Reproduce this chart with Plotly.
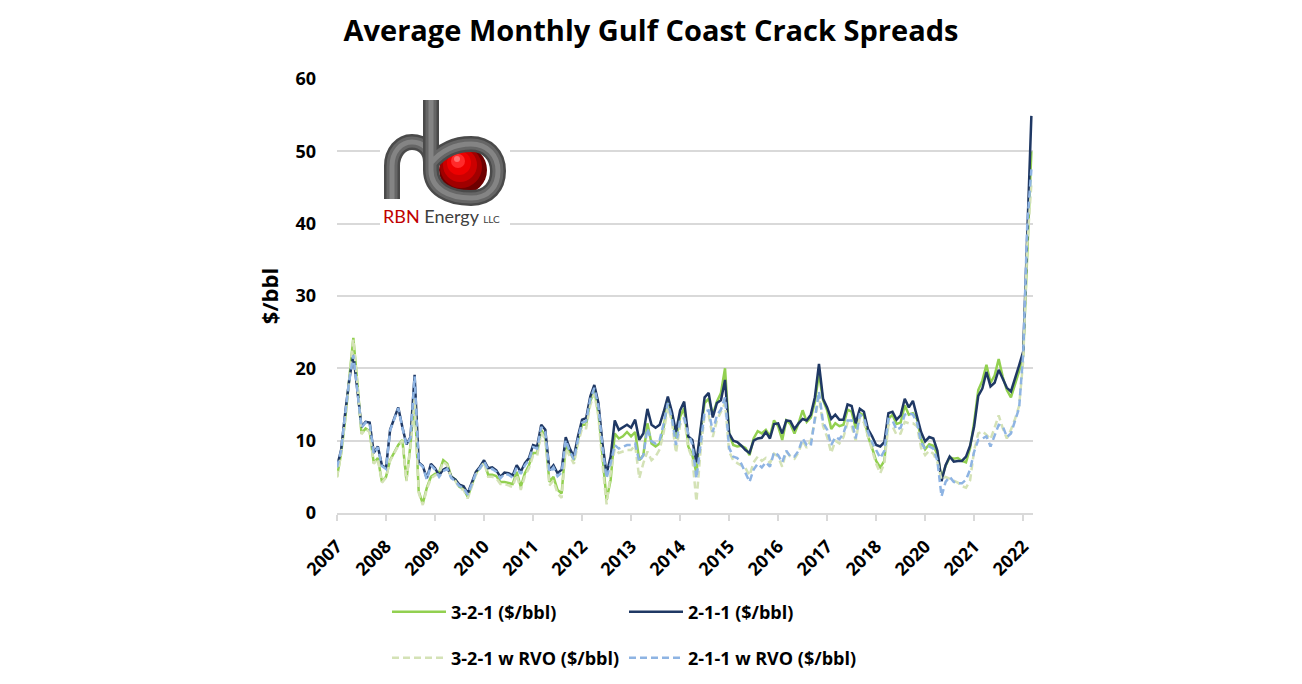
import plotly.graph_objects as go

# ---------------- data (monthly) ----------------
year_labels = ['2007', '2008', '2009', '2010', '2011', '2012', '2013', '2014',
               '2015', '2016', '2017', '2018', '2020', '2021', '2022']
label_every = 12

crack_321 = [
    5.0, 8.2, 12.9, 18.4, 24.2, 17.9, 11.0, 11.7, 11.3, 6.9, 7.6, 4.3,
    5.0, 7.3, 8.3, 9.4, 10.1, 4.5, 9.5, 16.0, 3.0, 1.3, 3.5, 5.0,
    5.4, 5.6, 7.3, 6.8, 5.0, 4.6, 3.6, 3.4, 2.2, 3.9, 5.5, 6.3,
    7.2, 5.3, 5.3, 5.1, 4.3, 4.3, 4.1, 4.0, 5.7, 3.6, 5.5, 6.6,
    8.3, 8.3, 11.5, 10.6, 4.3, 5.0, 3.2, 2.7, 9.4, 8.5, 7.3, 10.1,
    12.2, 12.2, 15.4, 17.0, 13.8, 7.3, 1.8, 4.6, 11.0, 10.3, 10.6, 11.2,
    10.6, 11.2, 7.3, 8.0, 12.4, 9.6, 9.2, 9.6, 11.9, 15.4, 13.1, 10.3,
    13.3, 14.5, 9.2, 8.0, 5.5, 11.2, 15.2, 15.8, 13.6, 15.4, 16.6, 20.0,
    11.0, 9.4, 9.2, 9.3, 9.0, 8.0, 10.3, 11.3, 11.0, 11.5, 10.6, 12.8,
    12.0, 10.1, 12.8, 12.3, 11.0, 12.4, 14.2, 12.6, 13.2, 15.3, 19.3, 15.6,
    14.2, 11.6, 12.4, 12.0, 12.2, 14.3, 14.0, 11.7, 13.8, 13.5, 10.6, 9.0,
    7.2, 6.3, 7.2, 13.0, 13.6, 12.3, 12.5, 14.9, 13.6, 13.8, 13.0, 10.2,
    8.8, 9.5, 9.3, 8.1, 4.8, 6.5, 7.7, 7.5, 7.6, 7.2, 7.0, 9.0,
    12.6, 17.0, 18.3, 20.5, 18.0, 19.0, 21.3, 18.8, 17.0, 16.0, 17.8, 19.6,
    21.8, 36.5, 50.0,
]

crack_211 = [
    6.4, 8.7, 13.8, 18.4, 21.9, 17.0, 11.9, 12.6, 12.5, 8.3, 9.2, 6.6,
    6.2, 11.5, 13.1, 14.6, 11.9, 9.5, 10.5, 19.1, 7.0, 6.5, 4.8, 6.8,
    6.2, 5.2, 6.0, 6.3, 5.0, 4.6, 3.9, 3.7, 2.7, 4.1, 5.7, 6.4,
    7.3, 6.2, 6.3, 5.9, 5.0, 5.6, 5.5, 5.2, 6.6, 5.7, 6.9, 7.6,
    9.4, 9.2, 12.2, 11.5, 5.9, 6.6, 5.5, 6.0, 10.5, 8.9, 7.8, 10.6,
    12.9, 13.1, 16.1, 17.7, 15.2, 9.6, 5.4, 7.8, 12.8, 11.5, 11.8, 12.2,
    11.8, 12.9, 10.1, 11.0, 14.4, 12.2, 11.8, 12.2, 14.0, 16.1, 14.0, 11.2,
    14.2, 15.4, 10.6, 10.1, 7.0, 11.5, 16.0, 16.6, 13.2, 15.2, 15.6, 18.4,
    11.0, 10.0, 9.8, 9.3, 8.7, 8.3, 10.0, 10.3, 10.4, 11.2, 10.3, 12.3,
    12.4, 11.0, 12.8, 12.7, 11.6, 12.4, 13.0, 12.8, 13.6, 16.0, 20.6, 15.8,
    14.6, 13.0, 13.6, 12.9, 12.9, 15.0, 14.8, 12.4, 14.4, 14.0, 11.6, 10.6,
    9.4, 9.2, 9.8, 13.8, 14.0, 12.9, 13.5, 15.8, 14.6, 15.5, 13.4, 11.2,
    9.9, 10.5, 10.3, 8.6, 4.4, 6.6, 7.8, 7.1, 7.2, 7.2, 7.8, 9.3,
    12.0, 16.2, 17.2, 19.5, 17.5, 18.0, 19.8, 18.5, 17.3, 16.8, 18.5, 20.4,
    22.3, 38.5, 54.9,
]

crack_321_rvo = [
    4.9, 8.1, 12.8, 18.3, 24.0, 17.8, 10.9, 11.6, 11.2, 6.8, 7.5, 4.2,
    4.9, 7.2, 8.2, 9.3, 10.0, 4.4, 9.3, 15.8, 2.8, 1.1, 3.3, 4.8,
    5.2, 5.4, 7.1, 6.6, 4.8, 4.4, 3.4, 3.2, 2.0, 3.7, 5.3, 6.1,
    7.0, 5.0, 5.0, 4.8, 4.0, 4.0, 3.8, 3.6, 5.3, 3.2, 5.1, 6.2,
    7.9, 7.9, 11.1, 10.2, 3.8, 4.5, 2.7, 2.1, 8.9, 7.9, 6.8, 9.6,
    11.7, 11.7, 14.9, 16.5, 13.3, 6.7, 1.2, 5.5, 8.9, 8.3, 8.5, 8.7,
    8.7, 9.4, 4.8, 6.9, 8.5, 7.3, 7.8, 8.8, 11.2, 14.7, 12.6, 8.3,
    12.2, 13.1, 9.0, 7.5, 1.6, 8.5, 13.5, 13.5, 10.5, 12.8, 14.0, 15.2,
    8.5, 7.3, 6.9, 6.5, 6.2, 5.2, 7.0, 7.8, 7.2, 7.6, 6.9, 8.2,
    7.8, 6.4, 8.5, 7.8, 7.5, 8.4, 10.0, 9.0, 10.0, 12.8, 16.2, 12.0,
    10.5, 8.3, 10.0, 9.6, 10.5, 12.5, 12.0, 10.0, 13.2, 12.5, 10.5, 8.8,
    6.8, 5.5, 6.8, 12.2, 12.0, 10.8, 11.0, 12.6, 12.4, 12.4, 12.0, 9.0,
    8.0, 8.6, 8.2, 7.0, 4.6, 5.0, 4.7, 4.4, 4.2, 3.7, 3.5, 4.5,
    8.7, 11.0, 11.3, 10.8, 10.2, 11.8, 13.5, 11.7, 10.3, 11.5, 13.0, 14.8,
    21.0, 37.0, 45.5,
]

crack_211_rvo = [
    6.3, 8.6, 13.7, 18.3, 21.8, 16.9, 11.8, 12.5, 12.4, 8.2, 9.1, 6.5,
    6.1, 11.4, 13.0, 14.5, 11.8, 9.4, 10.4, 18.9, 6.9, 6.4, 4.6, 6.6,
    6.0, 5.0, 5.8, 6.1, 4.8, 4.4, 3.7, 3.5, 2.5, 3.9, 5.5, 6.2,
    7.1, 6.0, 6.1, 5.7, 4.8, 5.4, 5.3, 4.9, 6.3, 5.4, 6.6, 7.3,
    9.1, 8.9, 11.9, 11.2, 5.6, 6.3, 5.1, 5.6, 10.1, 8.5, 7.4, 10.2,
    12.5, 12.7, 15.7, 17.3, 14.8, 9.1, 4.8, 6.9, 9.4, 8.9, 9.2, 9.4,
    9.4, 9.6, 7.1, 8.0, 11.7, 9.9, 9.6, 10.1, 12.4, 15.2, 13.1, 9.4,
    12.9, 13.1, 11.0, 9.5, 4.8, 9.5, 14.0, 14.2, 11.2, 13.5, 14.3, 16.0,
    9.0, 7.8, 7.6, 6.8, 5.5, 4.3, 6.0, 6.8, 6.3, 7.0, 6.4, 8.4,
    8.0, 7.0, 8.6, 7.8, 7.8, 8.6, 10.3, 9.4, 9.3, 12.8, 16.8, 12.5,
    11.5, 9.4, 10.5, 10.2, 11.0, 12.8, 12.8, 10.3, 13.6, 13.2, 11.2, 9.8,
    8.6, 7.6, 8.6, 13.0, 12.8, 11.5, 11.8, 13.6, 13.8, 13.6, 12.5, 9.8,
    8.8, 9.2, 8.9, 7.2, 2.3, 4.3, 5.0, 4.3, 4.1, 4.1, 4.6, 6.0,
    8.5, 10.1, 10.3, 10.6, 9.2, 10.8, 12.2, 12.0, 10.5, 11.0, 12.6, 14.5,
    22.0, 40.0, 47.5,
]

series_names = ['3-2-1 ($/bbl)', '2-1-1 ($/bbl)', '3-2-1 w RVO ($/bbl)', '2-1-1 w RVO ($/bbl)']

# ---------------- styling ----------------
FONT = 'Open Sans'
GREEN = '#92D050'
NAVY = '#1F3864'
LT_GREEN = '#D4E2B6'
LT_BLUE = '#8EB4E3'
GRID = '#D9D9D9'

months = list(range(len(crack_211)))
tick_positions = [i * label_every for i in range(len(year_labels))]

fig = go.Figure()
fig.add_trace(go.Scatter(x=months, y=crack_321, mode='lines', name=series_names[0],
                         line=dict(color=GREEN, width=2.5), legend='legend'))
fig.add_trace(go.Scatter(x=months, y=crack_211, mode='lines', name=series_names[1],
                         line=dict(color=NAVY, width=2.5), legend='legend2'))
fig.add_trace(go.Scatter(x=months, y=crack_321_rvo, mode='lines', name=series_names[2],
                         line=dict(color=LT_GREEN, width=2.5, dash='7px,4px'), legend='legend3'))
fig.add_trace(go.Scatter(x=months, y=crack_211_rvo, mode='lines', name=series_names[3],
                         line=dict(color=LT_BLUE, width=2.5, dash='7px,4px'), legend='legend4'))

# ---------------- logo (decoration) ----------------
PL, PB = 337, 513  # plot-area left / bottom in pixels (anchor)
PW, PH = 696, 434


def off(x, y):
    return x - PL, PB - y


def pix_path(points_cmds):
    s = ''
    for cmd, pts in points_cmds:
        s += cmd + ' '.join('%g,%g' % off(px, py) for px, py in pts) + ' '
    return s.strip()


def pshape(**kw):
    base = dict(xref='paper', yref='paper', xsizemode='pixel', ysizemode='pixel',
                xanchor=0, yanchor=0, layer='above')
    base.update(kw)
    return base


def circ(cx, cy, r, fill=None, line_color=None, lw=0):
    x0, y0 = off(cx - r, cy + r)
    x1, y1 = off(cx + r, cy - r)
    d = dict(type='circle', x0=x0, y0=y0, x1=x1, y1=y1)
    if fill:
        d['fillcolor'] = fill
    d['line'] = dict(color=line_color or 'rgba(0,0,0,0)', width=lw)
    return pshape(**d)


shapes = []
bx0, by0 = off(380, 232)
bx1, by1 = off(510, 97)
shapes.append(pshape(type='rect', x0=bx0, y0=by0, x1=bx1, y1=by1,
                     fillcolor='white', line=dict(width=0)))
for (cx, cy, r, col) in [(463, 170, 24, '#6E0000'), (461, 167, 21, '#A00000'),
                         (460, 165, 17, '#CC0000'), (459, 163, 12, '#EE0000'),
                         (458, 161, 7, '#FF2A2A'), (457, 159, 3, '#FF7070')]:
    shapes.append(circ(cx, cy, r, fill=col))

b_path = pix_path([('M', [(431, 100)]), ('L', [(431, 170)]),
                   ('C', [(431, 189), (449, 198), (471, 198)]),
                   ('C', [(489, 198), (498, 186), (498, 171)]),
                   ('C', [(498, 155), (487, 144), (471, 144)]),
                   ('C', [(455, 144), (441, 151), (431, 163)])])
r_path = pix_path([('M', [(392, 199)]), ('L', [(392, 166)]),
                   ('C', [(392, 152), (401, 142), (412, 142)]),
                   ('C', [(423, 142), (431, 150), (431, 162)])])
for path in (r_path, b_path):
    for col, w in [('#4A4A4A', 16), ('#666666', 11), ('#848484', 5)]:
        shapes.append(pshape(type='path', path=path, line=dict(color=col, width=w)))

fig.update_layout(shapes=shapes)

fig.add_annotation(xref='paper', yref='paper', x=(381 - PL) / PW, y=(PB - 216) / PH,
                   xanchor='left', yanchor='middle', showarrow=False,
                   text='<span style="color:#C00000">RBN</span> Energy <span style="font-size:10px">LLC</span>',
                   font=dict(family='Lato', size=18, color='#404040'))

# ---------------- layout ----------------
leg_font = dict(family=FONT, size=18, color='black', weight='bold')


def leg(px, py):
    return dict(x=(px - PL) / PW, y=(PB - py) / PH, xanchor='left', yanchor='middle',
                itemwidth=54, bgcolor='rgba(0,0,0,0)', font=leg_font)


fig.update_layout(
    width=1302, height=684,
    margin=dict(l=PL, r=1302 - PL - PW, t=PB - PH, b=684 - PB, autoexpand=False),
    paper_bgcolor='white', plot_bgcolor='white',
    title=dict(text='Average Monthly Gulf Coast Crack Spreads', x=0.5, xanchor='center',
               xref='container', yref='container', y=1 - 31 / 684, yanchor='middle',
               font=dict(family=FONT, size=29, color='black', weight='bold')),
    xaxis=dict(range=[0, 170.4], tickmode='array', tickvals=tick_positions, ticktext=year_labels,
               tickangle=-45, showgrid=False, zeroline=False, showline=True, linecolor=GRID,
               linewidth=1.5, ticks='outside', ticklen=6, tickcolor=GRID, tickwidth=1.5,
               ticklabelstandoff=8, automargin=False,
               tickfont=dict(family=FONT, size=18, color='black', weight='bold')),
    yaxis=dict(range=[0, 60], dtick=10, showgrid=True, gridcolor=GRID, gridwidth=1.5,
               zeroline=False, showline=False, ticks='', ticklabelstandoff=20, automargin=False,
               tickfont=dict(family=FONT, size=18, color='black', weight='bold'),
               title=dict(text='$/bbl', standoff=10,
                          font=dict(family=FONT, size=22, color='black', weight='bold'))),
    legend=leg(387, 612),
    legend2=leg(624, 612),
    legend3=leg(387, 658),
    legend4=leg(624, 658),
    showlegend=True,
)

fig.write_html('out.html', config={'displayModeBar': False},
               post_script="document.body.style.margin='0';document.body.style.overflow='hidden';")
